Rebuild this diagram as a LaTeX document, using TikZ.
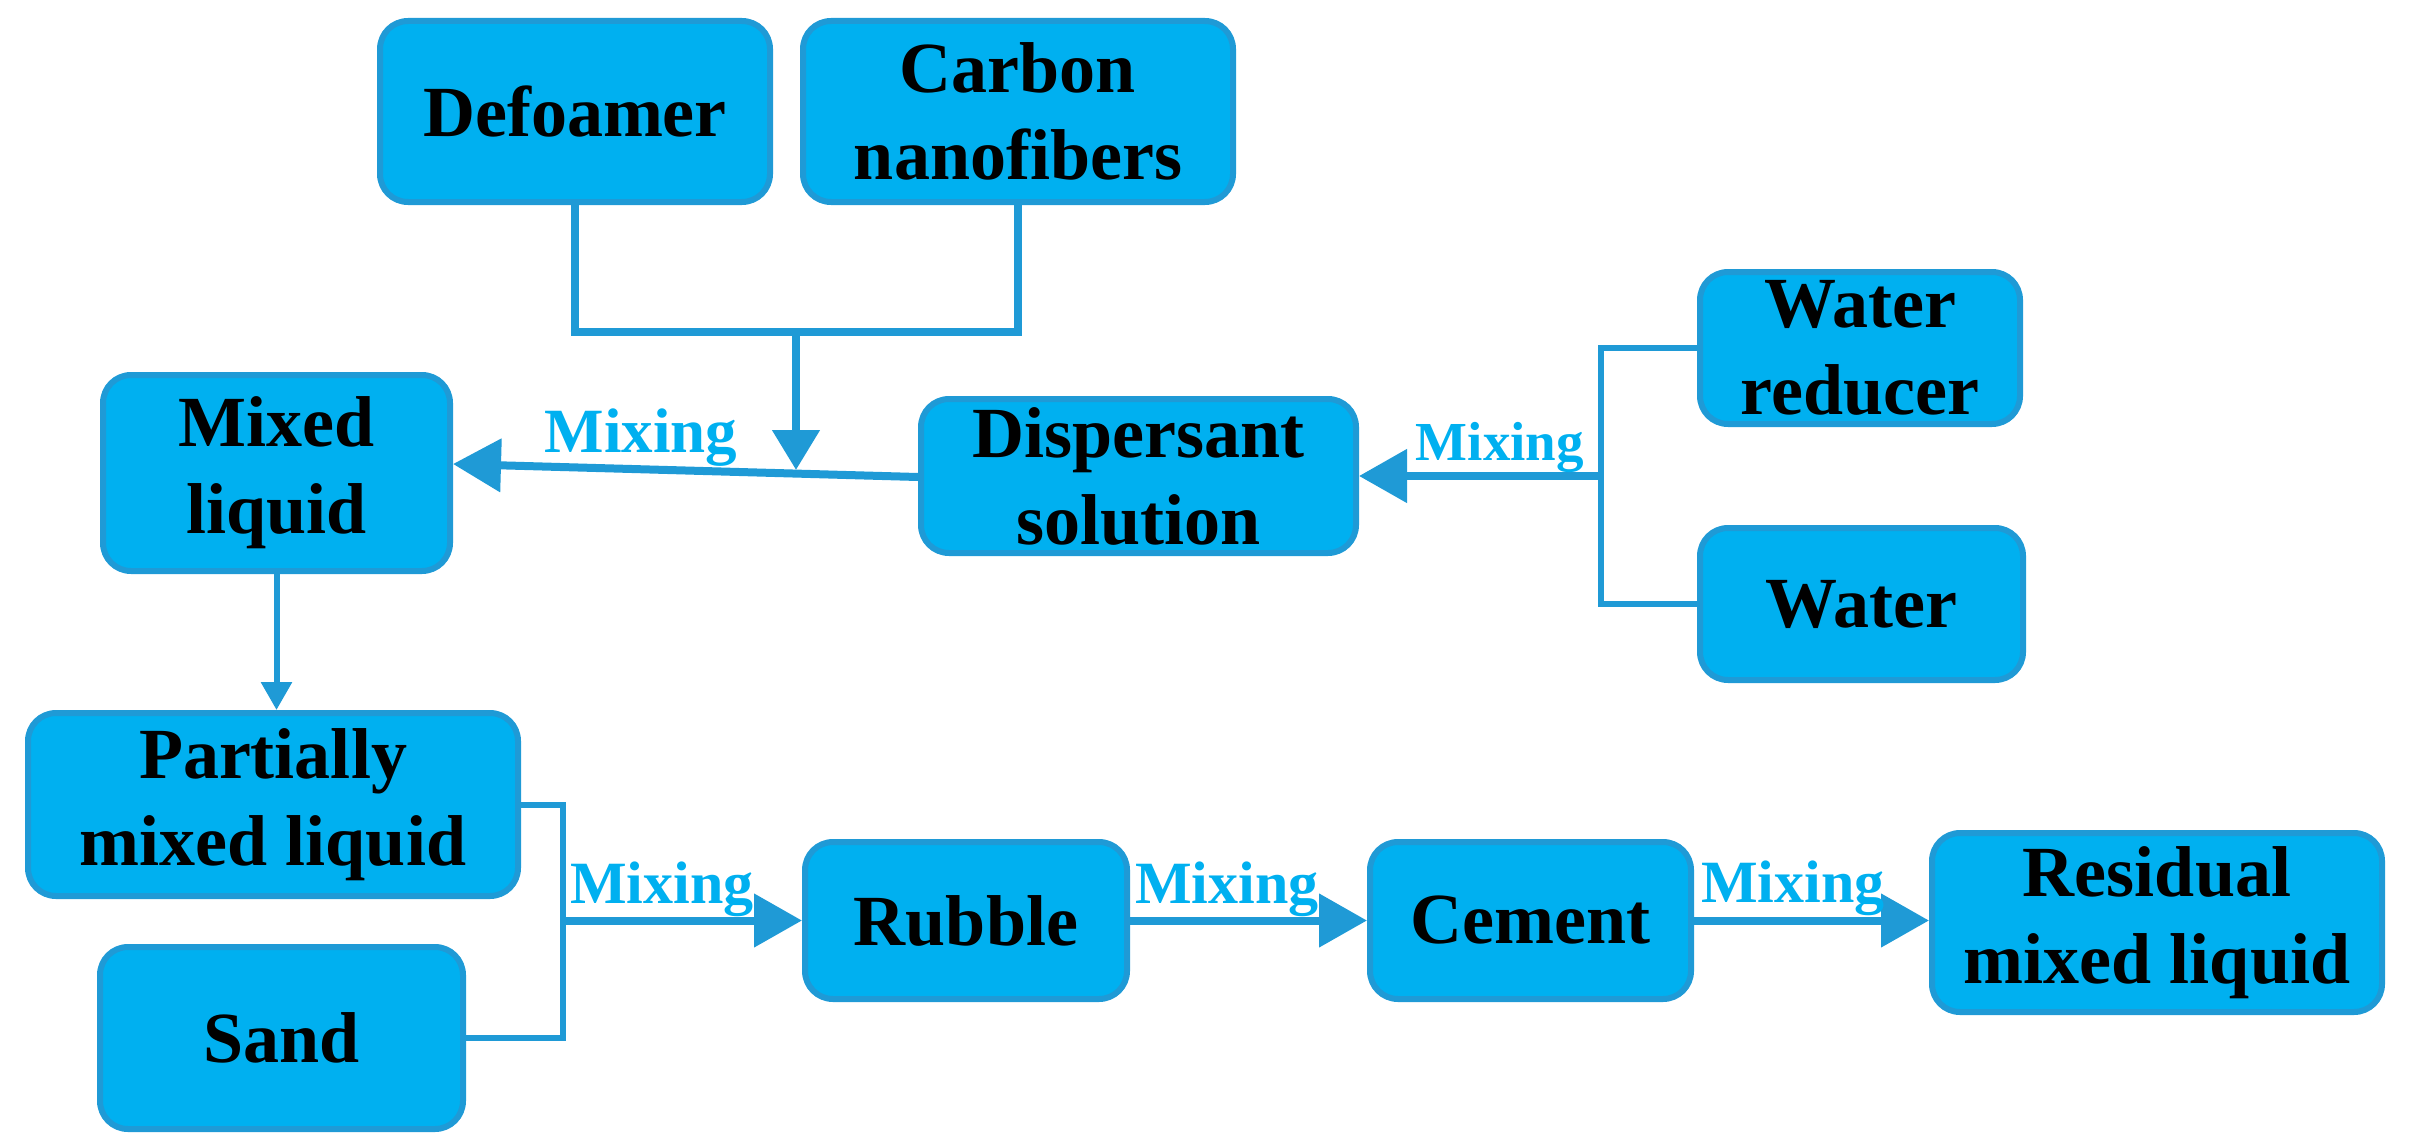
\documentclass[tikz,border=0pt]{standalone}
\usepackage{fontspec}
\setmainfont{Liberation Serif}
\usetikzlibrary{arrows.meta,calc}
\definecolor{fillc}{HTML}{00B0F0}
\definecolor{linec}{HTML}{1F9AD6}
\definecolor{mixc}{HTML}{00B0F0}
\newcommand\boxfont{\bfseries\fontsize{72}{87}\selectfont}
\newcommand\mixfont{\bfseries\fontsize{60}{70}\selectfont}
\begin{document}
\begin{tikzpicture}[x=1pt,y=-1pt,
  box/.style={draw=linec, fill=fillc, line width=6pt, rounded corners=28pt,
    inner sep=0pt, align=center, font=\boxfont, text=black},
  conn/.style={draw=linec, line width=6pt},
  arr/.style={draw=linec, line width=8pt, -{Triangle[length=48pt,width=52pt]}},
  mix/.style={text=mixc, font=\mixfont, inner sep=0pt, anchor=base}]
\useasboundingbox (0,0) rectangle (2433,1148);
% boxes
\node[box, minimum width=390pt, minimum height=181pt] (defo) at (575,111.5) {Defoamer};
\node[box, minimum width=430pt, minimum height=181pt] (carbon) at (1018,111.5) {Carbon\\nanofibers};
\node[box, minimum width=347pt, minimum height=196pt] (mixed) at (276.5,473) {Mixed\\liquid};
\node[box, minimum width=435pt, minimum height=154pt] (disp) at (1138.5,476) {Dispersant\\solution};
\node[box, minimum width=320pt, minimum height=152pt] (wred) at (1860,348) {Water\\reducer};
\node[box, minimum width=323pt, minimum height=152pt] (water) at (1861.5,604) {Water};
\node[box, minimum width=490pt, minimum height=183pt] (part) at (273,804.5) {Partially\\mixed liquid};
\node[box, minimum width=363pt, minimum height=182pt] (sand) at (281.5,1038) {Sand};
\node[box, minimum width=322pt, minimum height=157pt] (rubble) at (966,920.5) {Rubble};
\node[box, minimum width=321pt, minimum height=157pt] (cement) at (1530.5,920.5) {Cement};
\node[box, minimum width=450pt, minimum height=179pt] (resid) at (2157,922.5) {Residual\\mixed liquid};
% junction points
\coordinate (topj) at (796,332);
\coordinate (tipj) at (796,470);
\coordinate (brR) at (1601,476);
\coordinate (brL) at (563,920.5);
% top merge
\draw[conn, line width=8pt] (defo.south) |- (topj) -| (carbon.south);
\draw[draw=linec, line width=8pt, -{Triangle[length=40pt,width=46pt]}] (topj) -- (tipj);
% dispersant -> mixed liquid
\draw[arr] ($(disp.west)+(0,1)$) -- ($(mixed.east)+(0,-9)$);
% water reducer / water -> dispersant
\draw[conn] (wred.west) -- (wred.west -| brR) -- (water.west -| brR) -- (water.west);
\draw[arr] (brR) -- (disp.east);
% mixed liquid -> partially
\draw[draw=linec, line width=6pt, -{Triangle[length=28pt,width=30pt]}] (mixed.south) -- (mixed.south |- part.north);
% partially / sand -> rubble
\draw[conn] (part.east) -- (part.east -| brL) -- (sand.east -| brL) -- (sand.east);
\draw[arr] (brL) -- (rubble.west);
\draw[arr] (rubble.east) -- (cement.west);
\draw[arr] (cement.east) -- (cement.east -| resid.west);
% labels
\node[mix, font=\bfseries\fontsize{63}{70}\selectfont] (m1) at (641,452) {Mixing};
\node[mix, font=\bfseries\fontsize{55}{65}\selectfont] (m2) at (1500,460) {Mixing};
\node[mix] (m3) at (662,903) {Mixing};
\node[mix] (m4) at (1227,903) {Mixing};
\node[mix] (m5) at (1793,902) {Mixing};
\end{tikzpicture}
\end{document}
